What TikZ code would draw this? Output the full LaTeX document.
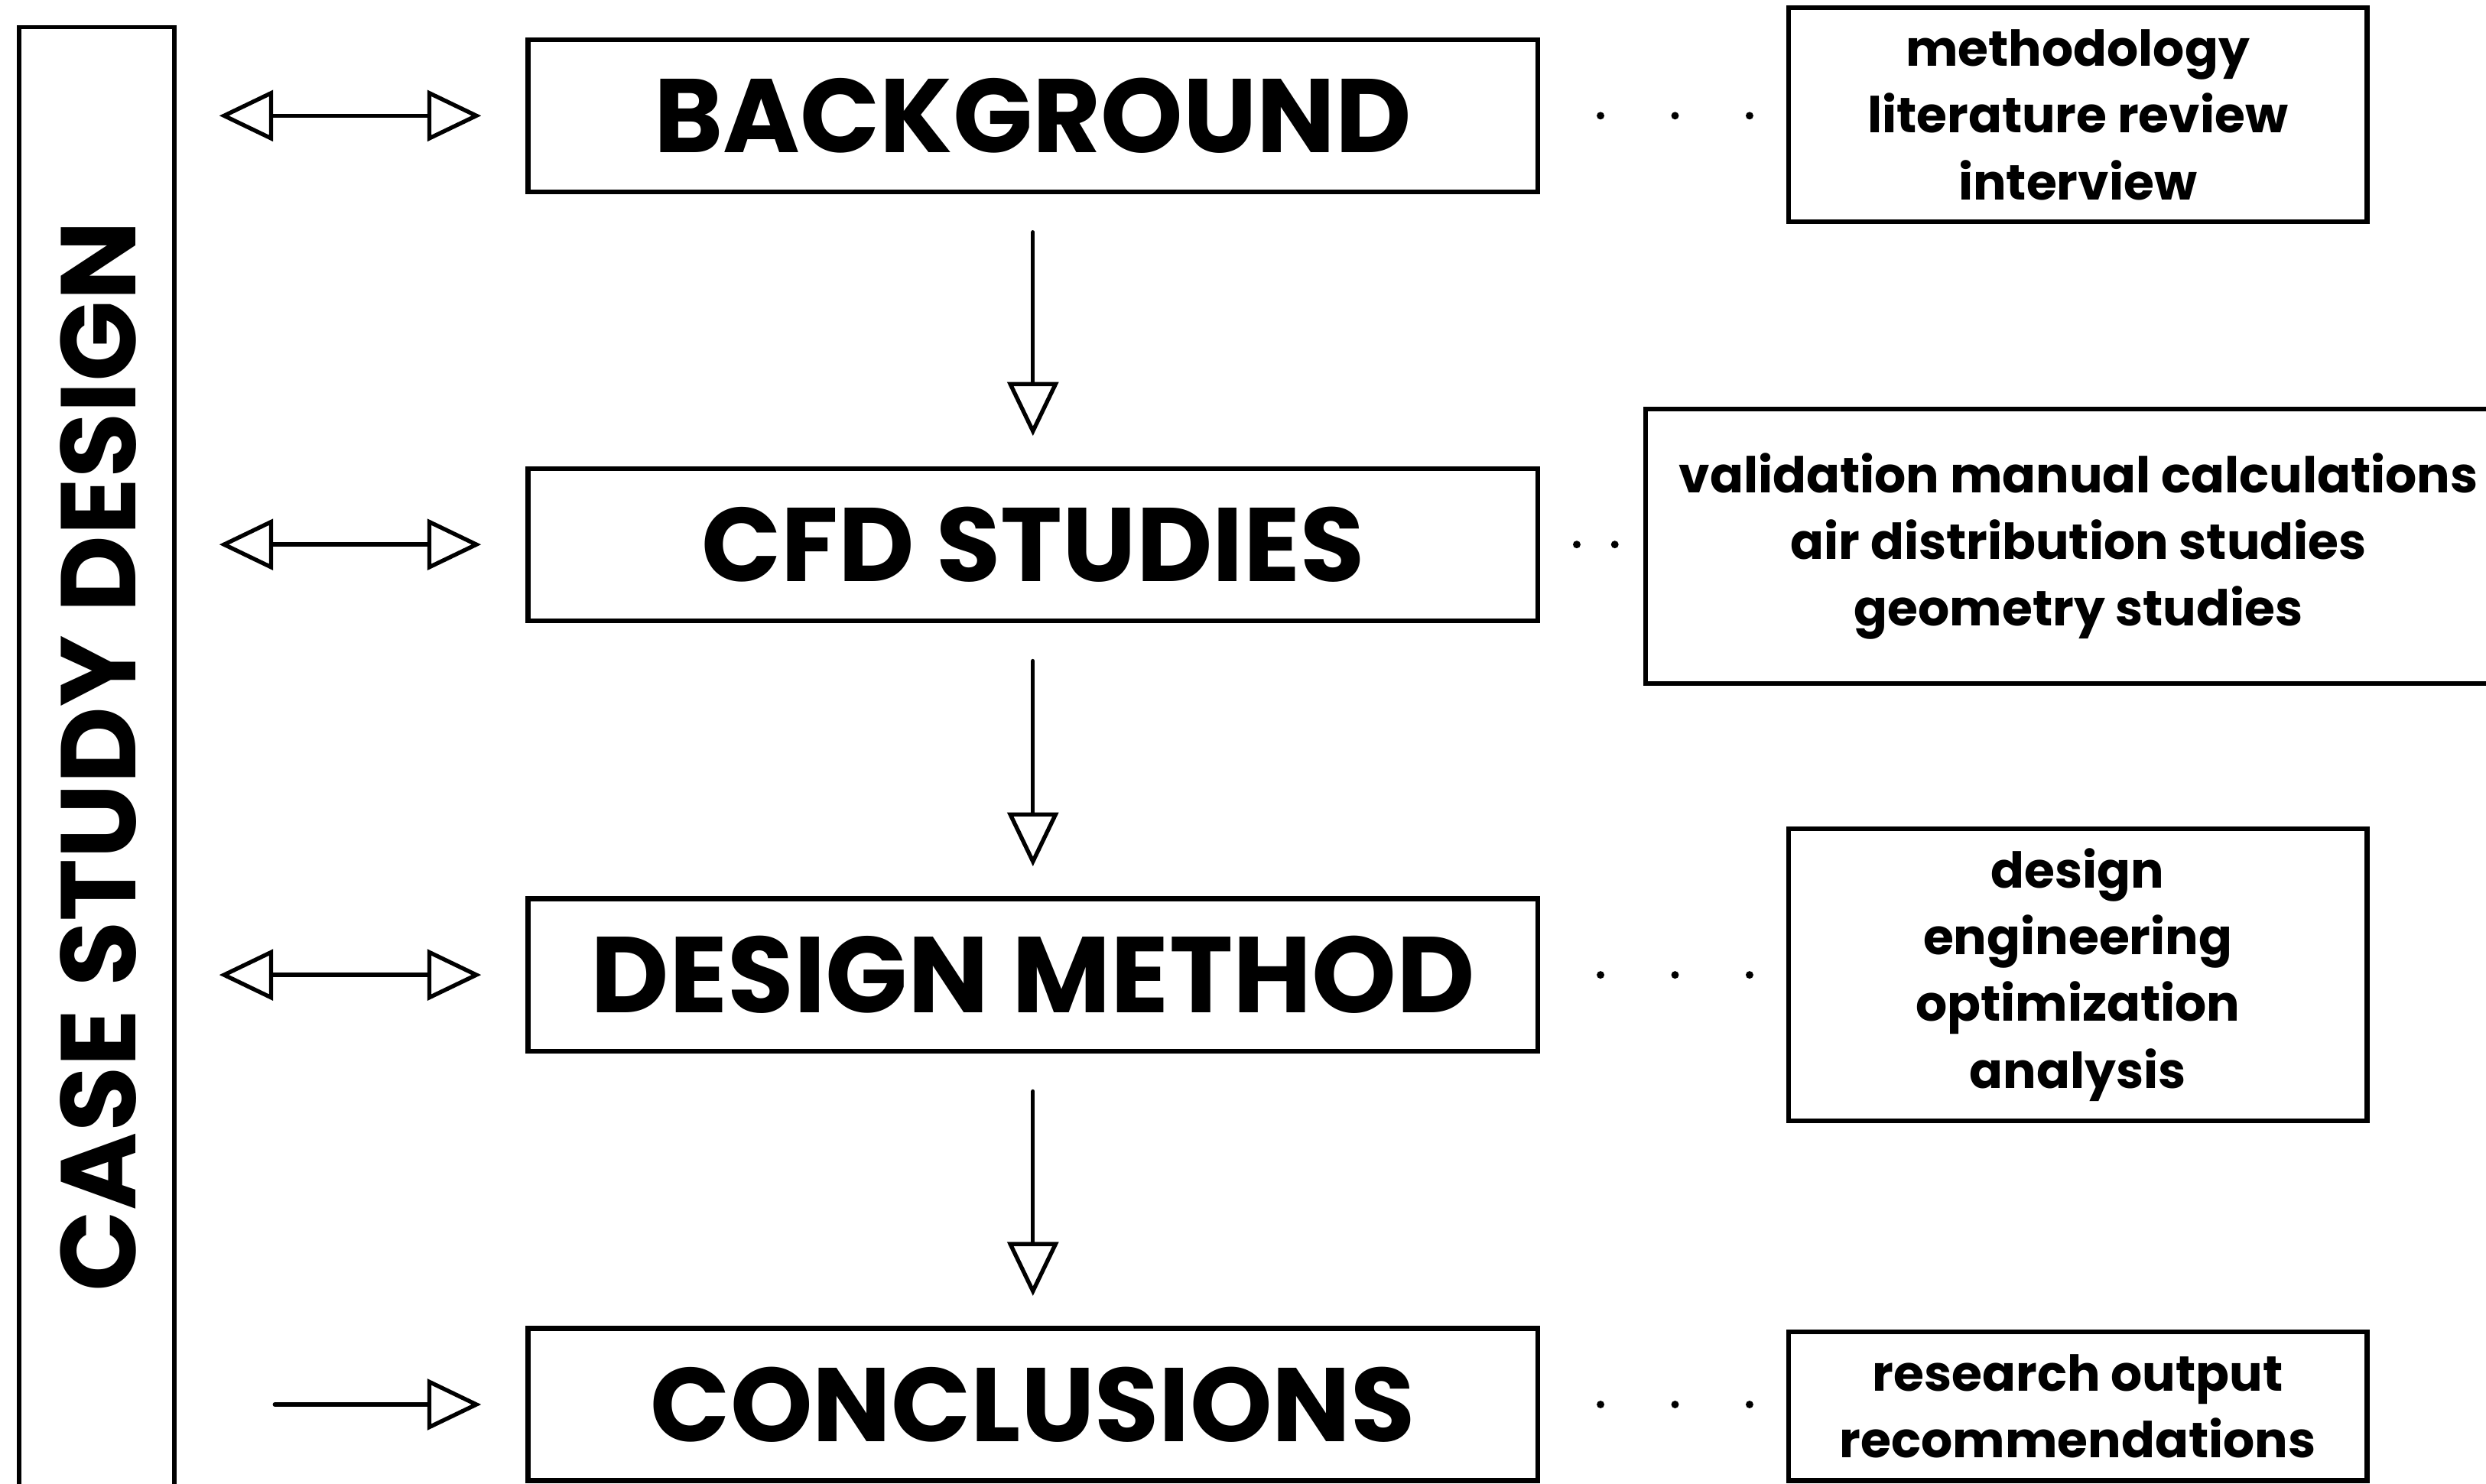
\documentclass[tikz,border=0pt]{standalone}
\usepackage{fontspec}
\setmainfont{Poppins}
\usetikzlibrary{arrows.meta}
\begin{document}
\begin{tikzpicture}[x=0.5pt,y=-0.5pt,
  stage/.style={draw,line width=1.5pt,minimum width=318.5pt,minimum height=48pt,
    inner sep=0pt,font=\bfseries\fontsize{33}{36}\selectfont},
  notes/.style={draw,line width=1.5pt,inner sep=0pt,align=center,
    font=\bfseries\fontsize{15.6}{21}\selectfont},
  flow/.style={line width=1.3pt,-{Triangle[open,length=17pt,width=16pt,fill=white]},line join=round,line cap=round},
  link/.style={line width=1.3pt,{Triangle[open,length=17pt,width=16pt,fill=white]}-{Triangle[open,length=17pt,width=16pt,fill=white]},line join=round,line cap=round},
  dot/.style={fill=black}]
\useasboundingbox (0,0) rectangle (1568,936);
% left frame running off the bottom edge
\node[draw,line width=1.3pt,minimum width=49pt,minimum height=469pt,inner sep=0pt] (side) at (61,486) {};
\node[rotate=90,font=\bfseries\fontsize{33.5}{38}\selectfont] (sidelabel) at (62,477) {CASE STUDY DESIGN};
% main stages
\node[stage] (bg)  at (651.5,73)  {BACKGROUND};
\node[stage] (cfd) at (651.5,343.5) {CFD STUDIES};
\node[stage] (dm)  at (651.5,615) {\fontsize{34}{36}\selectfont DESIGN METHOD};
\node[stage] (con) at (651.5,886) {CONCLUSIONS};
% detail boxes
\node[notes,minimum width=182.5pt,minimum height=67.5pt] (r1) at (1310.5,72.5) {methodology\\literature review\\interview};
\node[notes,minimum width=273pt,minimum height=86.5pt] (r2) at (1311,344.5) {validation manual calculations\\air distribution studies\\geometry studies};
\node[notes,minimum width=182.5pt,minimum height=92pt] (r3) at (1310.5,615) {design\\engineering\\optimization\\analysis};
\node[notes,minimum width=182.5pt,minimum height=47pt] (r4) at (1310.5,887) {research output\\recommendations};
% flow between stages
\draw[flow,shorten <=12pt,shorten >=9.5pt] (bg.south) -- (cfd.north);
\draw[flow,shorten <=12pt,shorten >=9.5pt] (cfd.south) -- (dm.north);
\draw[flow,shorten <=12pt,shorten >=9.5pt] (dm.south) -- (con.north);
% links to the frame
\draw[link,shorten <=13.5pt,shorten >=14pt] (side.east |- bg.west) -- (bg.west);
\draw[link,shorten <=13.5pt,shorten >=14pt] (side.east |- cfd.west) -- (cfd.west);
\draw[link,shorten <=13.5pt,shorten >=14pt] (side.east |- dm.west) -- (dm.west);
\draw[flow,shorten <=31pt,shorten >=14pt] (side.east |- con.west) -- (con.west);
% dotted leaders
\foreach \n in {bg,dm,con}
  \foreach \d in {38,85,132}
    \fill[dot] ([xshift=\d*0.5pt]\n.east) circle (1.2pt);
\foreach \d in {23,47}
  \fill[dot] ([xshift=\d*0.5pt]cfd.east) circle (1.2pt);
\end{tikzpicture}
\end{document}
